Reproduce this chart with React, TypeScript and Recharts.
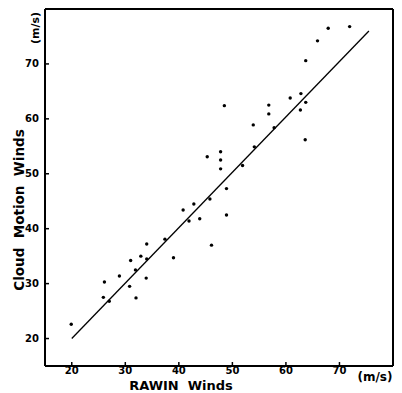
import React from 'react';
import { ScatterChart, Scatter, XAxis, YAxis, ReferenceLine, Label } from 'recharts';

// RAWIN winds (x) and cloud motion winds (y), m/s
const rawinWinds = [
  19.9, 25.9, 26.1, 27.0, 28.9, 30.8, 31.0, 32.0, 31.9, 32.9, 33.9,
  34.0, 34.0, 37.4, 39.0, 40.8, 41.9, 42.8, 43.9, 45.3, 45.8, 46.1,
  47.8, 47.8, 47.8, 48.5, 48.9, 48.9, 51.9, 53.9, 54.1, 56.8, 56.8,
  57.8, 60.8, 62.7, 62.8, 63.6, 63.7, 63.7, 65.9, 67.9, 71.9,
];
const cloudMotionWinds = [
  22.6, 27.5, 30.3, 26.8, 31.4, 29.5, 34.2, 27.4, 32.5, 35.0, 31.0,
  34.5, 37.2, 38.1, 34.7, 43.4, 41.4, 44.5, 41.8, 53.1, 45.4, 37.0,
  54.0, 52.5, 50.9, 62.4, 47.3, 42.5, 51.5, 58.9, 54.9, 62.5, 60.9,
  58.4, 63.8, 61.6, 64.6, 56.2, 63.0, 70.6, 74.2, 76.5, 76.8,
];
// regression line end points
const fitStart = { x: 20, y: 20 };
const fitEnd = { x: 75.5, y: 76 };
const tickValues = [20, 30, 40, 50, 60, 70];
const axisMin = 15;
const axisMax = 80;

const points = rawinWinds.map((x, i) => ({ x, y: cloudMotionWinds[i] }));

const font = '"DejaVu Sans", sans-serif';
const tickStyle = { fill: '#000', fontSize: 10, fontWeight: 700, fontFamily: font };
const axisLine = { stroke: '#000', strokeWidth: 2 };
const tickLine = { stroke: '#000', strokeWidth: 1.5 };
const titleProps = { fontWeight: 600, fontFamily: font, fill: '#000', style: { whiteSpace: 'pre' as const } };

const Dot = (props: any) => <circle cx={props.cx} cy={props.cy} r={1.7} fill="#000" />;

const App: React.FC = () => {
  return (
    <div style={{ position: 'absolute', left: 0, top: 0, background: '#fff' }}>
      <ScatterChart width={402} height={393} margin={{ top: 9, right: 9, bottom: 0, left: 0 }}>
        <XAxis
          dataKey="x"
          type="number"
          domain={[axisMin, axisMax]}
          ticks={tickValues}
          height={27}
          tickSize={-4}
          tickMargin={5}
          axisLine={axisLine}
          tickLine={tickLine}
          tick={tickStyle}
          allowDataOverflow
        >
          <Label
            content={() => (
              <g>
                <text x={181} y={390} textAnchor="middle" fontSize={13} {...titleProps}>
                  RAWIN  Winds
                </text>
                <text x={375} y={381} textAnchor="middle" fontSize={12} {...titleProps}>
                  (m/s)
                </text>
              </g>
            )}
          />
        </XAxis>
        <YAxis
          dataKey="y"
          type="number"
          domain={[axisMin, axisMax]}
          ticks={tickValues}
          width={45}
          tickSize={-4}
          tickMargin={10}
          axisLine={axisLine}
          tickLine={tickLine}
          tick={tickStyle}
          allowDataOverflow
        >
          <Label
            content={() => (
              <g>
                <text
                  x={19}
                  y={210}
                  transform="rotate(-90, 19, 210)"
                  textAnchor="middle"
                  dominantBaseline="central"
                  fontSize={13.5}
                  {...titleProps}
                >
                  Cloud  Motion  Winds
                </text>
                <text
                  x={35}
                  y={28}
                  transform="rotate(-90, 35, 28)"
                  textAnchor="middle"
                  dominantBaseline="central"
                  fontSize={11}
                  {...titleProps}
                >
                  (m/s)
                </text>
              </g>
            )}
          />
        </YAxis>
        {/* frame: top and right edges */}
        <ReferenceLine y={axisMax} stroke="#000" strokeWidth={2} ifOverflow="visible" />
        <ReferenceLine x={axisMax} stroke="#000" strokeWidth={2} ifOverflow="visible" />
        <ReferenceLine
          segment={[fitStart, fitEnd]}
          stroke="#000"
          strokeWidth={1.3}
          ifOverflow="visible"
        />
        <Scatter data={points} shape={Dot} isAnimationActive={false} />
      </ScatterChart>
    </div>
  );
};

export default App;
